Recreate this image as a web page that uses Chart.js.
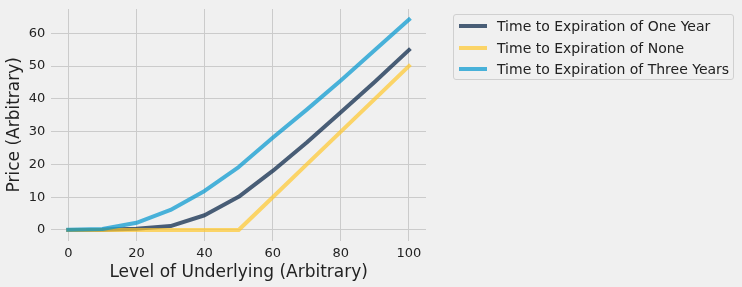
<!DOCTYPE html>
<html>
<head>
<meta charset="utf-8">
<script src="https://cdn.jsdelivr.net/npm/chart.js@4/dist/chart.umd.min.js"></script>
<style>
  html, body { margin: 0; padding: 0; background: #f0f0f0; }
  #wrap { position: relative; width: 742px; height: 287px; }
  #legend { position: absolute; left: 453px; top: 14px; width: 281px; height: 66px;
            border: 1px solid #d0d0d0; border-radius: 3px; box-sizing: border-box;
            font-family: "DejaVu Sans", sans-serif; font-size: 14px; color: #222; }
  .item { position: absolute; left: 0; height: 20px; width: 100%; }
  .swatch { position: absolute; left: 5px; top: 8px; width: 28px; height: 4px; }
  .label { position: absolute; left: 43px; top: 1px; white-space: nowrap; line-height: 18px; }
</style>
</head>
<body>
<div id="wrap">
  <canvas id="c" width="742" height="287"></canvas>
  <div id="legend"></div>
</div>
<script>
const underlying = [0, 10, 20, 30, 40, 50, 60, 70, 80, 90, 100];
const oneYear    = [0, 0.05, 0.4, 1.2, 4.5, 10.1, 18.0, 26.7, 35.9, 45.2, 54.9];
const noneExp    = [0, 0, 0, 0, 0, 0, 10, 20, 30, 40, 50];
const threeYears = [0.1, 0.3, 2.2, 6.1, 11.9, 19.2, 28.1, 36.7, 45.6, 54.9, 64.2];
const seriesLabels = ["Time to Expiration of One Year", "Time to Expiration of None", "Time to Expiration of Three Years"];
const seriesColors = ["rgba(0,30,66,0.7)", "rgba(255,200,44,0.7)", "rgba(0,150,207,0.7)"];
const xTicks = [0, 20, 40, 60, 80, 100];
const yTicks = [0, 10, 20, 30, 40, 50, 60];

const seriesValues = [oneYear, noneExp, threeYears];
const datasets = seriesValues.map((vals, i) => ({
  label: seriesLabels[i],
  data: underlying.map((x, j) => ({ x: x, y: vals[j] })),
  borderColor: seriesColors[i],
  backgroundColor: seriesColors[i],
  borderWidth: 4,
  pointRadius: 0,
  borderCapStyle: 'square',
  borderJoinStyle: 'round',
  tension: 0,
  fill: false,
  order: seriesValues.length - i
}));

const font = { family: "DejaVu Sans", size: 13 };
new Chart(document.getElementById('c'), {
  type: 'line',
  data: { datasets },
  options: {
    responsive: false,
    devicePixelRatio: 1,
    animation: false,
    layout: { padding: { left: 0, right: 316, top: 9, bottom: 0 } },
    plugins: { legend: { display: false }, tooltip: { enabled: false } },
    scales: {
      x: {
        type: 'linear', min: -5, max: 105,
        afterBuildTicks: s => { s.ticks = xTicks.map(v => ({ value: v })); },
        afterFit: s => { s.height = 46.5; s.paddingLeft = 0; s.paddingRight = 0; },
        grid: { color: '#cbcbcb', lineWidth: 1, drawTicks: false },
        border: { display: false },
        ticks: { font, color: '#222', padding: 5, maxRotation: 0 },
        title: { display: true, text: 'Level of Underlying (Arbitrary)', font: { family: "DejaVu Sans", size: 17 }, color: '#222', padding: { top: 0, bottom: 4 } }
      },
      y: {
        type: 'linear', min: -3.21, max: 67.4,
        afterBuildTicks: s => { s.ticks = yTicks.map(v => ({ value: v })); },
        afterFit: s => { s.width = 51.3; s.paddingTop = 0; s.paddingBottom = 0; },
        grid: { color: '#cbcbcb', lineWidth: 1, drawTicks: false },
        border: { display: false },
        ticks: { font, color: '#222', padding: 6 },
        title: { display: true, text: 'Price (Arbitrary)', font: { family: "DejaVu Sans", size: 17 }, color: '#222', padding: { top: 4.5, bottom: 0 } }
      }
    }
  }
});

const legend = document.getElementById('legend');
const rowTops = [1, 22.5, 44];
seriesLabels.forEach((lab, i) => {
  const item = document.createElement('div');
  item.className = 'item';
  item.style.top = rowTops[i] + 'px';
  const sw = document.createElement('div');
  sw.className = 'swatch';
  sw.style.background = seriesColors[i];
  const tx = document.createElement('div');
  tx.className = 'label';
  tx.textContent = lab;
  item.appendChild(sw); item.appendChild(tx);
  legend.appendChild(item);
});
</script>
</body>
</html>
